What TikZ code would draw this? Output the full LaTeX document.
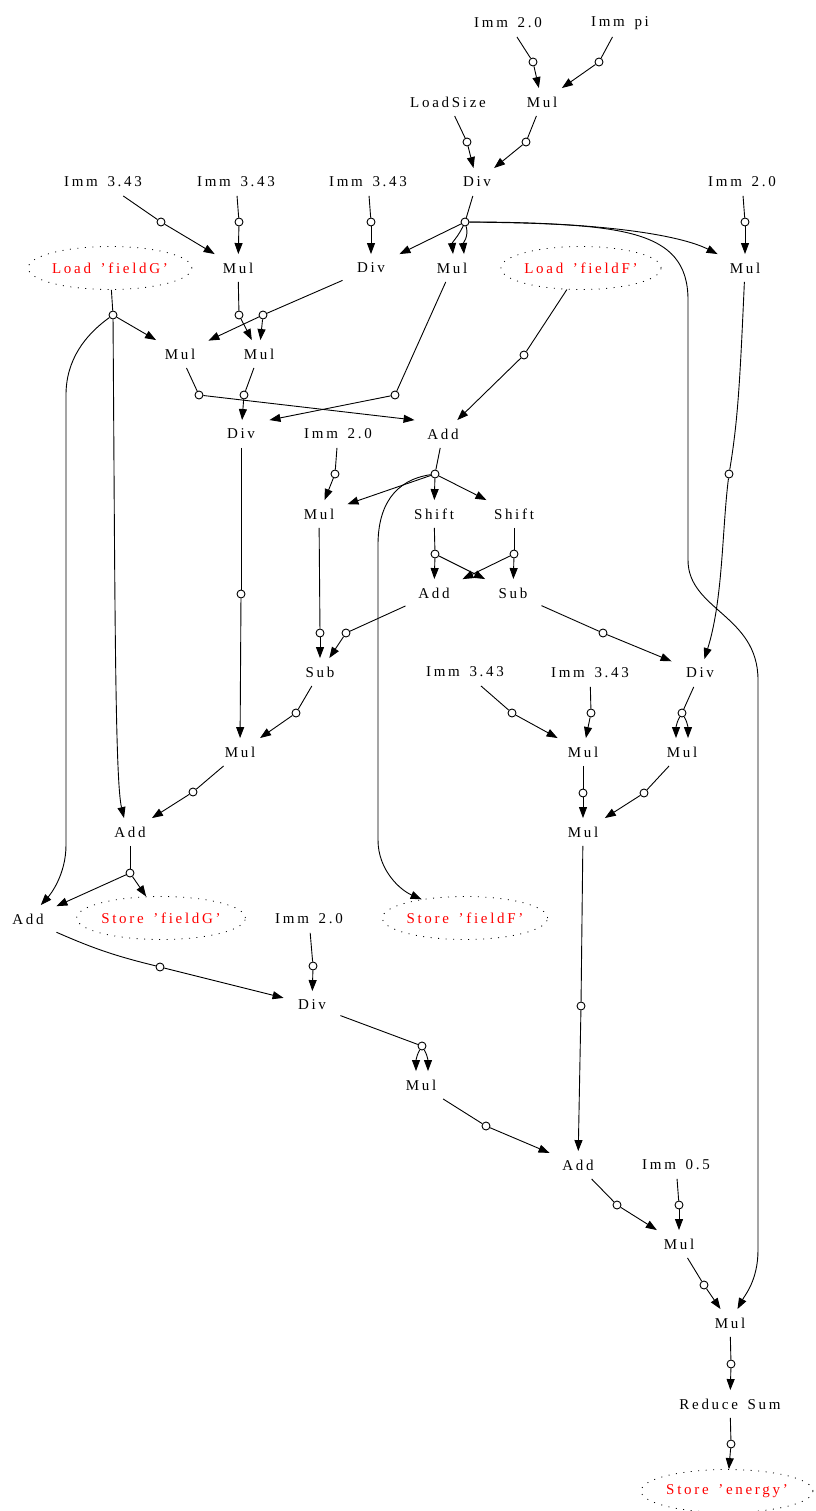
\documentclass[tikz,border=0pt]{standalone}
\usepackage{fontspec}
\setmainfont{Liberation Serif}[LetterSpace=18, WordSpace=1.5]
\usetikzlibrary{arrows.meta, shapes.geometric}
\definecolor{fieldred}{RGB}{255, 0, 0}

\begin{document}
\begin{tikzpicture}[x=1pt, y=-1pt, >={Triangle[length=11pt,width=8pt]},
    font=\fontsize{15}{17}\selectfont, line width=0.9pt,
    op/.style={inner sep=0pt, minimum width=56pt, minimum height=27pt},
    field/.style={ellipse, draw, line width=0.8pt, dash pattern=on 1pt off 6.5pt,
      text=fieldred, inner sep=0pt, minimum width=164pt, minimum height=43pt},
    val/.style={circle, draw, fill=white, inner sep=0pt, minimum size=8pt}]
  \useasboundingbox (0,0) rectangle (815,1511);
  % Top: size and constants
  \node[op] (imm1) at (508,23) {Imm 2.0};
  \node[op] (immpi) at (620,23) {Imm pi};
  \node[val] (vimm1) at (533,62) {};
  \node[val] (vimmpi) at (599,62) {};
  \node[op] (loadsize) at (448,102) {LoadSize};
  \node[op] (mul1) at (542,102) {Mul};
  \node[val] (vloadsize) at (467,142) {};
  \node[val] (vmul1) at (526,142) {};
  \node[op] (imm2) at (103,182) {Imm 3.43};
  \node[op] (imm3) at (236,182) {Imm 3.43};
  \node[op] (imm4) at (368,182) {Imm 3.43};
  \node[op] (div1) at (477,182) {Div};
  \node[op] (imm5) at (742,182) {Imm 2.0};
  \node[val] (vimm2) at (161,222) {};
  \node[val] (vimm3) at (239,222) {};
  \node[val] (vimm4) at (371,222) {};
  \node[val] (vdiv1) at (465,222) {};
  \node[val] (vimm5) at (745,222) {};
  % Loads and first products
  \node[field, minimum width=162pt] (loadg) at (110,268) {Load 'fieldG'};
  \node[op] (mul2) at (238,268) {Mul};
  \node[op] (div2) at (371,268) {Div};
  \node[op] (mul3) at (452,268) {Mul};
  \node[field, minimum width=158pt] (loadf) at (581,268) {Load 'fieldF'};
  \node[op] (mul4) at (745,268) {Mul};
  \node[val] (vloadg) at (113,315) {};
  \node[val] (vmul2) at (239,315) {};
  \node[val] (vdiv2) at (263,315) {};
  \node[op] (mul5) at (180,354) {Mul};
  \node[op] (mul6) at (259,354) {Mul};
  \node[val] (vloadf) at (524,355) {};
  \node[val] (vmul5) at (199,395) {};
  \node[val] (vmul6) at (244,395) {};
  \node[val] (vmul3) at (395,395) {};
  \node[op] (div3) at (241,434) {Div};
  \node[op] (imm6) at (338,434) {Imm 2.0};
  \node[op] (add1) at (443,434) {Add};
  \node[val] (vimm6) at (335,474) {};
  \node[val] (vadd1) at (435,474) {};
  \node[val] (vmul4) at (729,474) {};
  % Middle: shifts and differences
  \node[op] (mul7) at (319,514) {Mul};
  \node[op] (shift1) at (434,514) {Shift};
  \node[op] (shift2) at (514,514) {Shift};
  \node[val] (vshift1) at (435,554) {};
  \node[val] (vshift2) at (514,554) {};
  \node[op] (add2) at (434,593) {Add};
  \node[op] (sub1) at (513,593) {Sub};
  \node[val] (vdiv3) at (241,594) {};
  \node[val] (vmul7) at (320,633) {};
  \node[val] (vadd2) at (346,633) {};
  \node[val] (vsub1) at (603,633) {};
  \node[op] (sub2) at (320,672) {Sub};
  \node[op] (imm7) at (465,672) {Imm 3.43};
  \node[op] (imm8) at (590,673) {Imm 3.43};
  \node[op] (div4) at (700,673) {Div};
  \node[val] (vsub2) at (296,713) {};
  \node[val] (vimm7) at (512,713) {};
  \node[val] (vimm8) at (591,713) {};
  \node[val] (vdiv4) at (682,713) {};
  \node[op] (mul8) at (240,752) {Mul};
  \node[op] (mul9) at (583,752) {Mul};
  \node[op] (mul10) at (682,752) {Mul};
  \node[val] (vmul8) at (193,792) {};
  \node[val] (vmul9) at (583,793) {};
  \node[val] (vmul10) at (644,793) {};
  \node[op] (add3) at (130,832) {Add};
  \node[op] (mul11) at (583,832) {Mul};
  \node[val] (vadd3) at (130,873) {};
  % Stores and energy
  \node[op] (add4) at (28,919) {Add};
  \node[field] (storeg) at (161,918) {Store 'fieldG'};
  \node[op] (imm9) at (309,919) {Imm 2.0};
  \node[field] (storef) at (465,918) {Store 'fieldF'};
  \node[val] (vadd4) at (160,967) {};
  \node[val] (vimm9) at (313,966) {};
  \node[op] (div5) at (312,1005) {Div};
  \node[val] (vmul11) at (581,1006) {};
  \node[val] (vdiv5) at (422,1046) {};
  \node[op] (mul12) at (421,1085) {Mul};
  \node[val] (vmul12) at (486,1126) {};
  \node[op] (add5) at (578,1165) {Add};
  \node[op] (imm10) at (676,1165) {Imm 0.5};
  \node[val] (vadd5) at (617,1205) {};
  \node[val] (vimm10) at (679,1205) {};
  \node[op] (mul13) at (679,1244) {Mul};
  \node[val] (vmul13) at (704,1285) {};
  \node[op] (mul14) at (730,1323) {Mul};
  \node[val] (vmul14) at (731,1364) {};
  \node[op] (reduce) at (730,1404) {Reduce Sum};
  \node[val] (vreduce) at (731,1444) {};
  \node[field, minimum width=168pt] (storee) at (727,1491) {Store 'energy'};

  % Edges
  \draw (imm1) -- (vimm1);  \draw[->] (vimm1) -- (mul1);
  \draw (immpi) -- (vimmpi);  \draw[->] (vimmpi) -- (mul1);
  \draw (loadsize) -- (vloadsize);  \draw[->] (vloadsize) -- (div1);
  \draw (mul1) -- (vmul1);  \draw[->] (vmul1) -- (div1);
  \draw (div1) -- (vdiv1);
  \draw[->] (vdiv1) -- (div2);
  \draw[->] (vdiv1) to[out=-115, in=95] ([xshift=1pt]mul3.north);
  \draw[->] (vdiv1) to[out=-75, in=95] ([xshift=12pt]mul3.north);
  \draw[->] (vdiv1) .. controls (600,222) and (680,235) .. (mul4);
  \draw[->] (vdiv1) .. controls (620,224) and (688,228) .. (688,300) -- (688,560)
    .. controls (688,610) and (758,615) .. (758,680) -- (758,1250)
    .. controls (758,1280) and (745,1295) .. (mul14);
  \draw (imm2) -- (vimm2);  \draw[->] (vimm2) -- (mul2);
  \draw (imm3) -- (vimm3);  \draw[->] (vimm3) -- (mul2);
  \draw (imm4) -- (vimm4);  \draw[->] (vimm4) -- (div2);
  \draw (imm5) -- (vimm5);  \draw[->] (vimm5) -- (mul4);
  \draw (loadg) -- (vloadg);
  \draw[->] (vloadg) -- (mul5);
  \draw[->] (vloadg) .. controls (115,600) and (115,780) .. ([xshift=-6pt]add3.north);
  \draw[->] (vloadg) .. controls (85,335) and (66,360) .. (66,395) -- (66,845)
    .. controls (66,875) and (50,895) .. (add4);
  \draw (mul2) -- (vmul2);  \draw[->] (vmul2) -- (mul6);
  \draw (div2) -- (vdiv2);  \draw[->] (vdiv2) -- (mul5);  \draw[->] (vdiv2) -- (mul6);
  \draw (mul3) -- (vmul3);  \draw[->] (vmul3) -- (div3.north east);
  \draw (loadf) -- (vloadf);  \draw[->] (vloadf) -- (add1);
  \draw (mul4) .. controls (740,380) and (738,420) .. (vmul4);
  \draw[->] (vmul4) .. controls (722,530) and (723,600) .. (div4);
  \draw (mul5) -- (vmul5);  \draw[->] (vmul5) -- (add1.north west);
  \draw (mul6) -- (vmul6);  \draw[->] (vmul6) -- (div3);
  \draw (div3) -- (vdiv3);  \draw[->] (vdiv3) -- (mul8);
  \draw (imm6) -- (vimm6);  \draw[->] (vimm6) -- (mul7);
  \draw (add1) -- (vadd1);
  \draw[->] (vadd1) -- (mul7);
  \draw[->] (vadd1) -- (shift1);
  \draw[->] (vadd1) -- (shift2);
  \draw[->] (vadd1) .. controls (395,480) and (378,505) .. (378,545) -- (378,840)
    .. controls (378,870) and (400,890) .. (storef);
  \draw (mul7) -- (vmul7);  \draw[->] (vmul7) -- (sub2);
  \draw (shift1) -- (vshift1);  \draw[->] (vshift1) -- (add2);  \draw[->] (vshift1) -- (sub1);
  \draw (shift2) -- (vshift2);  \draw[->] (vshift2) -- (sub1);  \draw[->] (vshift2) -- (add2);
  \draw (add2) -- (vadd2);  \draw[->] (vadd2) -- (sub2);
  \draw (sub1) -- (vsub1);  \draw[->] (vsub1) -- (div4);
  \draw (sub2) -- (vsub2);  \draw[->] (vsub2) -- (mul8);
  \draw (imm7) -- (vimm7);  \draw[->] (vimm7) -- (mul9);
  \draw (imm8) -- (vimm8);  \draw[->] (vimm8) -- (mul9);
  \draw (div4) -- (vdiv4);
  \draw[->] (vdiv4) to[out=-120, in=90] ([xshift=-6pt]mul10.north);
  \draw[->] (vdiv4) to[out=-60, in=90] ([xshift=6pt]mul10.north);
  \draw (mul8) -- (vmul8);  \draw[->] (vmul8) -- (add3);
  \draw (mul9) -- (vmul9);  \draw[->] (vmul9) -- (mul11);
  \draw (mul10) -- (vmul10);  \draw[->] (vmul10) -- (mul11);
  \draw (add3) -- (vadd3);  \draw[->] (vadd3) -- (add4);  \draw[->] (vadd3) -- (storeg);
  \draw (mul11) -- (vmul11);  \draw[->] (vmul11) -- (add5);
  \draw (add4) to[bend right=5] (vadd4);  \draw[->] (vadd4) -- (div5);
  \draw (imm9) -- (vimm9);  \draw[->] (vimm9) -- (div5);
  \draw (div5) -- (vdiv5);
  \draw[->] (vdiv5) to[out=-120, in=90] ([xshift=-5pt]mul12.north);
  \draw[->] (vdiv5) to[out=-60, in=90] ([xshift=7pt]mul12.north);
  \draw (mul12) -- (vmul12);  \draw[->] (vmul12) -- (add5);
  \draw (add5) -- (vadd5);  \draw[->] (vadd5) -- (mul13);
  \draw (imm10) -- (vimm10);  \draw[->] (vimm10) -- (mul13);
  \draw (mul13) -- (vmul13);  \draw[->] (vmul13) -- (mul14);
  \draw (mul14) -- (vmul14);  \draw[->] (vmul14) -- (reduce);
  \draw (reduce) -- (vreduce);  \draw[->] (vreduce) -- (storee);
\end{tikzpicture}
\end{document}
